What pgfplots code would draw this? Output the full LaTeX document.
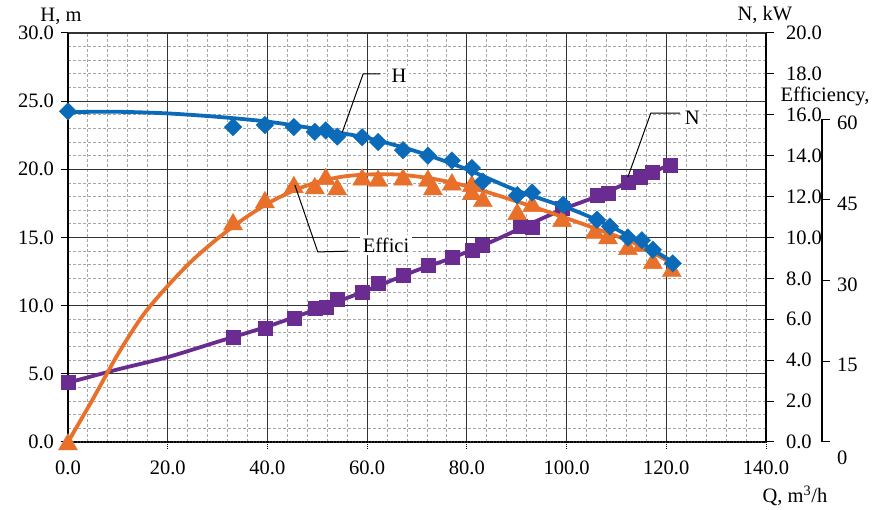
\documentclass[border=0pt]{standalone}
\usepackage{fontspec}
\setmainfont{Liberation Serif}
\usepackage{pgfplots}
\pgfplotsset{compat=1.18}
\definecolor{cH}{HTML}{0B6BB8}
\definecolor{cE}{HTML}{E8702A}
\definecolor{cN}{HTML}{6A2C91}
\begin{document}
\fontsize{20.5}{24}\selectfont
\begin{tikzpicture}
\pgfplotsset{every axis/.append style={scale only axis, width=698pt, height=409pt, xmin=0, xmax=140, /pgf/number format/assume math mode=true}}
% grid + H scale
\begin{axis}[ymin=0, ymax=30,
  xtick={0,20,...,140}, ytick={0,5,...,30},
  minor x tick num=4, minor y tick num=4,
  grid=both,
  major grid style={black!80, line width=1.1pt},
  minor grid style={gray!70, densely dashed, line width=0.9pt},
  axis x line*=bottom, axis y line*=left,
  x axis line style={black, line width=2.2pt, densely dotted},
  y axis line style={black, line width=1.6pt},
  tick align=outside, major tick length=7pt, minor tick length=0pt,
  xtick style={black, line width=1pt, densely dotted},
  ytick style={black, line width=1pt},
  xticklabel style={yshift=-5pt, /pgf/number format/fixed, /pgf/number format/fixed zerofill, /pgf/number format/precision=1},
  yticklabel style={/pgf/number format/fixed, /pgf/number format/fixed zerofill, /pgf/number format/precision=1}]
\end{axis}
% N axis and data
\begin{axis}[ymin=0, ymax=20, hide x axis, axis y line*=right,
  ytick={0,2,...,20}, tick align=outside, major tick length=8pt,
  y axis line style={black, line width=2.2pt},
  ytick style={black, line width=1pt},
  yticklabel style={xshift=5pt, /pgf/number format/fixed, /pgf/number format/fixed zerofill, /pgf/number format/precision=1},
  clip=false]
\addplot[cN, line width=3.8pt, smooth] coordinates {(0,2.9) (10,3.55) (20,4.15) (30,4.9) (40,5.65) (50,6.5) (60,7.42) (70,8.4) (77,9.0) (85,9.8) (93,10.7) (100,11.45) (106,12.0) (112,12.65) (120.7,13.55)};
\addplot[only marks, mark=square*, mark size=7pt, mark options={draw=cN, fill=cN}] coordinates {(0,2.9) (33.1,5.13) (39.5,5.57) (45.3,6.06) (49.5,6.55) (51.7,6.6) (54.0,6.99) (59.0,7.33) (62.2,7.77) (67.2,8.17) (72.2,8.66) (77.0,9.05) (81.0,9.39) (83.1,9.63) (90.6,10.56) (93.1,10.51) (99.1,11.44) (106.1,12.08) (108.3,12.18) (112.3,12.71) (114.7,12.96) (117.1,13.2) (120.7,13.55)};
\end{axis}
% Efficiency data
\begin{axis}[ymin=0, ymax=76, hide axis, clip=false]
\addplot[cE, line width=3.8pt, smooth] coordinates {(0,0) (5,8.0) (10,16.3) (15,23.5) (20,29.0) (25,33.8) (30,37.8) (35,41.3) (40,44.3) (45,46.6) (50,48.3) (55,49.3) (60,49.7) (66,49.7) (72,49.1) (77,48.2) (81,47.3) (87,45.6) (93,43.8) (99,41.9) (106,39.6) (114,36.8) (121.3,33.1)};
\addplot[only marks, mark=triangle*, mark size=11pt, mark options={draw=cE, fill=cE, yshift=-2.5pt}] coordinates {(0,0) (33.1,40.9) (39.5,45.0) (45.3,47.8) (49.5,47.6) (51.7,49.3) (54.0,47.4) (59.0,49.2) (62.2,49.0) (67.2,49.2) (72.2,49.0) (73.2,47.4) (77.0,48.3) (81.0,48.0) (81.0,46.5) (83.2,45.2) (90.1,42.8) (93.1,44.3) (99.1,41.5) (105.7,39.3) (108.3,38.3) (112.3,36.3) (115.1,36.9) (117.3,33.7) (121.1,32.2)};
\end{axis}
% H data
\begin{axis}[ymin=0, ymax=30, hide axis, clip=false]
\addplot[cH, line width=3.8pt, smooth] coordinates {(0,24.2) (10,24.22) (20,24.1) (30,23.85) (40,23.5) (50,22.95) (60,22.3) (70,21.3) (80,20.0) (90,18.45) (100,17.2) (106,16.3) (110,15.6) (115,14.6) (121.3,13.2)};
\addplot[only marks, mark=square*, mark size=6.2pt, mark options={draw=cH, fill=cH, rotate=45}] coordinates {(0,24.25) (33.1,23.1) (39.5,23.25) (45.3,23.1) (49.5,22.75) (51.7,22.85) (54.0,22.4) (59.0,22.35) (62.2,22.0) (67.2,21.4) (72.2,21.0) (77.0,20.65) (81.0,20.1) (83.2,19.1) (90.1,18.1) (93.1,18.3) (99.3,17.4) (106.1,16.3) (108.7,15.8) (112.3,15.0) (115.1,14.8) (117.3,14.1) (121.3,13.1)};
\draw[black, line width=1pt] (axis cs:62.6,27.0) -- (axis cs:59.2,27.0) -- (axis cs:54.96,22.67);
\node[fill=white, inner sep=3pt] at (axis cs:66.4,26.85) {H};
\draw[black, line width=1pt] (axis cs:56.2,14.0) -- (axis cs:50.1,13.94) -- (axis cs:45.5,18.85);
\node[fill=white, inner sep=3pt] at (axis cs:63.8,14.45) {Effici};
\draw[black, line width=1pt] (axis cs:122.75,24.13) -- (axis cs:116.9,24.13) -- (axis cs:112.3,19.44);
\node[fill=white, inner sep=3pt] at (axis cs:125.2,23.77) {N};
\end{axis}
% Efficiency scale
\begin{axis}[at={(753pt,0pt)}, width=1pt, height=322.9pt, xmin=0, xmax=1, ymin=0, ymax=60,
  hide x axis, axis y line*=right, ytick={15,30,45,60}, tick align=outside, major tick length=8pt,
  extra y ticks={0}, extra y tick style={yticklabel style={yshift=-12pt}},
  y axis line style={black, line width=1.5pt}, ytick style={black, line width=1pt},
  yticklabel style={yshift=-4pt}]
\end{axis}
\node at (-7pt,426pt) {H, m};
\node at (697pt,427pt) {N, kW};
\node at (757pt,345pt) {Efficiency,};
\node at (727pt,-54pt) {Q, m\textsuperscript{3}/h};
\pgfresetboundingbox
\path[use as bounding box] (-68pt,-68pt) rectangle (810pt,442pt);
\end{tikzpicture}
\end{document}
